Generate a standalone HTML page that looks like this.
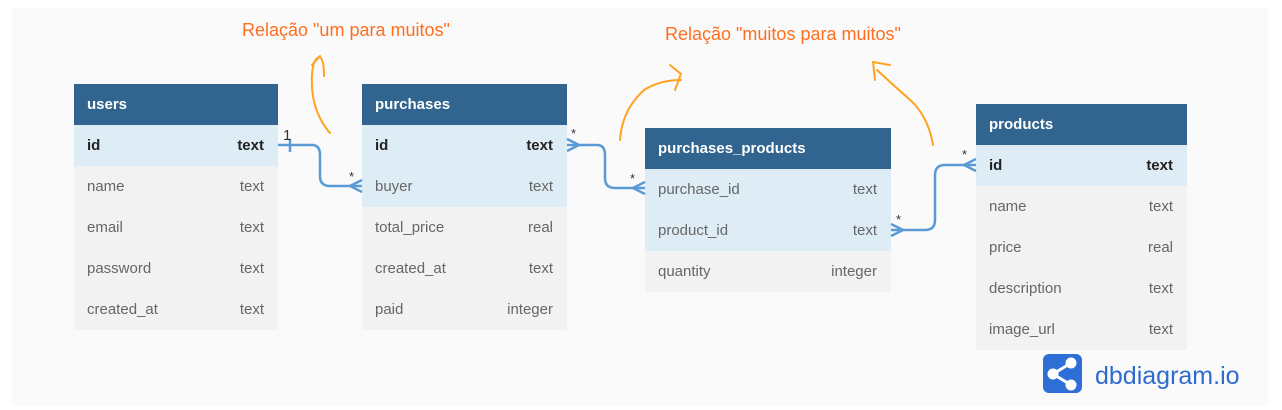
<!DOCTYPE html>
<html><head><meta charset="utf-8"><style>
body{margin:0;width:1282px;height:410px;background:#fff;position:relative;overflow:hidden;font-family:"Liberation Sans",sans-serif}
.bg{position:absolute;left:12px;top:8px;width:1256px;height:398px;background:#fafafa}
.t{position:absolute;font-size:15px}
.h{height:41px;background:#316590;color:#fff;font-weight:bold;padding-left:13px;line-height:41px;box-sizing:border-box}
.r{height:41px;line-height:41px;display:flex;justify-content:space-between;padding:0 14px 0 13px;background:#f2f2f2;color:#666}
.r.k{background:#deedf5}
.r.b{color:#222;font-weight:bold}
.o{position:absolute;color:#ff6e1f;font-size:18px}
</style></head><body>
<div class="bg"></div>
<div class="o" style="left:242px;top:20px">Relação "um para muitos"</div>
<div class="o" style="left:665px;top:24px">Relação "muitos para muitos"</div>

<div class="t" style="left:74px;top:84px;width:204px">
<div class="h">users</div>
<div class="r k b"><span>id</span><span>text</span></div>
<div class="r"><span>name</span><span>text</span></div>
<div class="r"><span>email</span><span>text</span></div>
<div class="r"><span>password</span><span>text</span></div>
<div class="r"><span>created_at</span><span>text</span></div>
</div>
<div class="t" style="left:362px;top:84px;width:205px">
<div class="h">purchases</div>
<div class="r k b"><span>id</span><span>text</span></div>
<div class="r k"><span>buyer</span><span>text</span></div>
<div class="r"><span>total_price</span><span>real</span></div>
<div class="r"><span>created_at</span><span>text</span></div>
<div class="r"><span>paid</span><span>integer</span></div>
</div>
<div class="t" style="left:645px;top:128px;width:246px">
<div class="h">purchases_products</div>
<div class="r k"><span>purchase_id</span><span>text</span></div>
<div class="r k"><span>product_id</span><span>text</span></div>
<div class="r"><span>quantity</span><span>integer</span></div>
</div>
<div class="t" style="left:976px;top:104px;width:211px">
<div class="h">products</div>
<div class="r k b"><span>id</span><span>text</span></div>
<div class="r"><span>name</span><span>text</span></div>
<div class="r"><span>price</span><span>real</span></div>
<div class="r"><span>description</span><span>text</span></div>
<div class="r"><span>image_url</span><span>text</span></div>
</div>

<svg width="1282" height="410" style="position:absolute;left:0;top:0">
<g fill="none" stroke="#5b9bd5" stroke-width="2.5">
<path d="M278 145 H312 Q320 145 320 155 V176 Q320 186 330 186 H362"/>
<path d="M290 139 V152"/>
<path d="M362 180 L350 186 L362 192"/>
<path d="M567 145 H597 Q605 145 605 155 V178 Q605 188 615 188 H645"/>
<path d="M567 139 L579 145 L567 151"/>
<path d="M645 182 L633 188 L645 194"/>
<path d="M891 230 H925 Q935 230 935 220 V175 Q935 165 945 165 H976"/>
<path d="M891 224 L903 230 L891 236"/>
<path d="M976 159 L964 165 L976 171"/>
</g>
<g fill="#333" font-size="13" font-family="Liberation Sans,sans-serif">
<text x="283" y="140" font-size="15">1</text>
<text x="349" y="181">*</text>
<text x="571" y="138">*</text>
<text x="630" y="183">*</text>
<text x="896" y="224">*</text>
<text x="962" y="159">*</text>
</g>
<g fill="none" stroke="#ffa21f" stroke-width="2" stroke-linecap="round">
<path d="M330 133 Q310 110 312 75 Q313 58 320 57 Q324 60 324 76"/>
<path d="M312 65 L320 56"/>
<path d="M620 140 Q622 110 644 90 Q660 80 681 80"/>
<path d="M670 65 L681 74 L675 90"/>
<path d="M933 145 Q928 115 908 98 Q890 82 877 70"/>
<path d="M875 80 L873 62 L890 65"/>
</g>
<rect x="1043" y="354" width="39" height="39" rx="6" fill="#2e6fd6"/>
<g stroke="#fff" stroke-width="3" fill="#fff"><path d="M1053 374 L1071 363 M1053 374 L1071 385"/><circle cx="1053" cy="374" r="4"/><circle cx="1071" cy="363" r="4"/><circle cx="1071" cy="385" r="4"/></g>
<text x="1095" y="384" font-size="25" fill="#2f6bcf" font-family="Liberation Sans,sans-serif">dbdiagram.io</text>
</svg>
</body></html>
